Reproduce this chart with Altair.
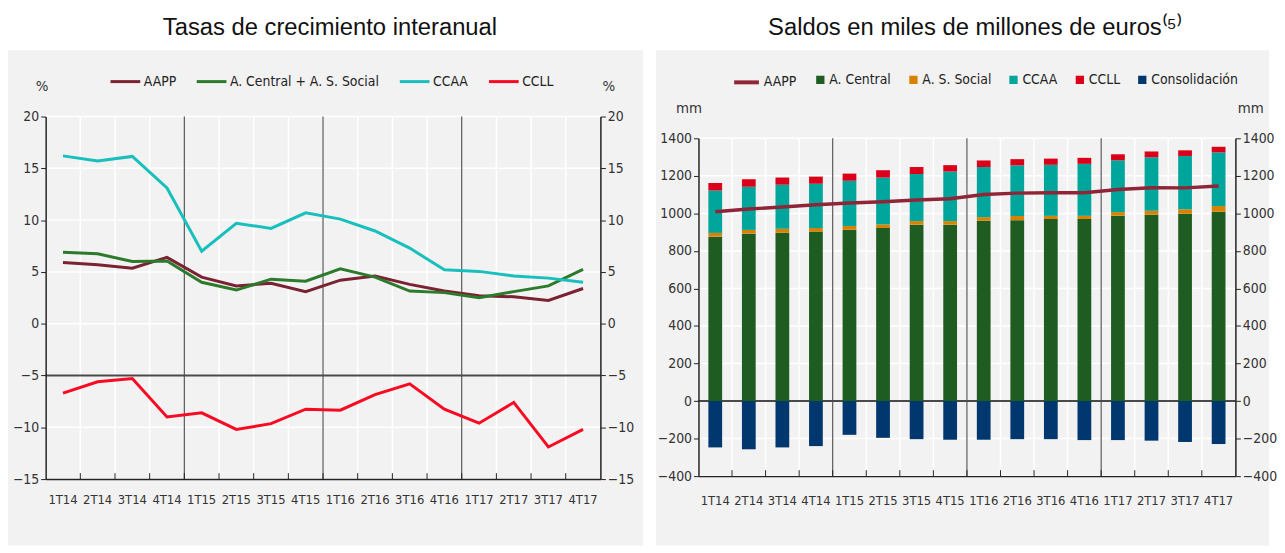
import altair as alt
import pandas as pd

# ---------------- data ----------------
quarters = ["1T14", "2T14", "3T14", "4T14", "1T15", "2T15", "3T15", "4T15",
            "1T16", "2T16", "3T16", "4T16", "1T17", "2T17", "3T17", "4T17"]

# Left panel: tasas de crecimiento interanual (%)
rate_aapp = [5.9, 5.7, 5.35, 6.4, 4.5, 3.65, 3.9, 3.1, 4.2, 4.6, 3.8, 3.15, 2.7, 2.6, 2.25, 3.4]
rate_central = [6.9, 6.75, 6.0, 6.05, 4.0, 3.25, 4.3, 4.1, 5.3, 4.5, 3.15, 3.0, 2.5, 3.1, 3.65, 5.25]
rate_ccaa = [16.2, 15.7, 16.15, 13.1, 7.0, 9.7, 9.2, 10.7, 10.1, 8.95, 7.3, 5.2, 5.05, 4.6, 4.4, 4.0]
rate_ccll = [-6.7, -5.6, -5.3, -9.0, -8.6, -10.2, -9.65, -8.25, -8.35, -6.85, -5.8, -8.25, -9.6, -7.6, -11.9, -10.2]
left_series = ["AAPP", "A. Central + A. S. Social", "CCAA", "CCLL"]
left_colors = ["#7a2231", "#2c7a2b", "#19bfbc", "#f70a22"]
left_ticks = [-15, -10, -5, 0, 5, 10, 15, 20]
left_cross = -5

# Right panel: saldos (mm euros)
stock_central = [876, 892, 897, 903, 913, 922, 940, 940, 961, 964, 970, 970, 988, 993, 998, 1009]
stock_social = [20, 20, 21, 19, 20, 19, 19, 19, 19, 22, 17, 17, 19, 21, 24, 30]
stock_ccaa = [226, 230, 235, 236, 241, 250, 251, 264, 267, 270, 272, 277, 276, 285, 284, 286]
stock_ccll = [40, 40, 38, 38, 38, 39, 37, 34, 35, 33, 33, 32, 32, 31, 30, 30]
stock_consol = [-247, -257, -247, -240, -180, -196, -203, -206, -206, -203, -203, -208, -208, -211, -218, -229]
stock_aapp = [1009, 1023, 1034, 1046, 1055, 1062, 1071, 1078, 1101, 1108, 1110, 1110, 1127, 1137, 1136, 1146]
bar_series = ["A. Central", "A. S. Social", "CCAA", "CCLL", "Consolidación"]
bar_colors = ["#1f5c21", "#d98200", "#00a59b", "#db0019", "#00376e"]
line_color_right = "#8f2537"
right_ticks = [-400, -200, 0, 200, 400, 600, 800, 1000, 1200, 1400]
right_cross = 0

# ---------------- styles ----------------
FONT = "Liberation Sans Narrow, DejaVu Sans Condensed, sans-serif"
TFONT = "Liberation Sans, Arial, sans-serif"
PANEL = "#f2f2f2"
AXC = "#222222"
LBL = "#333333"

# ---------------- tables ----------------
left_vals = [rate_aapp, rate_central, rate_ccaa, rate_ccll]
df_left = pd.DataFrame([
    {"q": q, "i": i, "s": s, "v": vals[i]}
    for s, vals in zip(left_series, left_vals)
    for i, q in enumerate(quarters)
])
bar_vals = [stock_central, stock_social, stock_ccaa, stock_ccll, stock_consol]
df_bars = pd.DataFrame([
    {"q": q, "c": c, "o": k, "v": vals[i]}
    for k, (c, vals) in enumerate(zip(bar_series, bar_vals))
    for i, q in enumerate(quarters)
])
df_rline = pd.DataFrame({"q": quarters, "i": list(range(len(quarters))), "s": "AAPP", "v": stock_aapp})
df_q = pd.DataFrame({"q": quarters})
df_inner = pd.DataFrame({"q": quarters[1:]})
df_years = pd.DataFrame({"q": quarters[4::4]})
df_one = pd.DataFrame({"a": [0]})


def yaxis(orient, yticks, ytitle, tx):
    return alt.Axis(orient=orient, values=yticks, format="d", grid=False, ticks=True, tickSize=5,
                    tickColor=AXC, domainColor=AXC, domainWidth=1.5, labelFont=FONT, labelFontSize=14,
                    labelColor=LBL, labelPadding=2, title=ytitle, titleAngle=0, titleX=tx,
                    titleY=-26, titleFont=FONT, titleFontSize=15, titleFontWeight="normal",
                    titleColor=LBL, titleAlign="center", titleBaseline="alphabetic", zindex=1)


def make_panel(W, H, ydom, yticks, cross, bg_box, ytitle, title_txt, tdx, lx_l, lx_r, lpad):
    xs = alt.Scale(type="band", domain=quarters, paddingInner=0, paddingOuter=0)
    ys = alt.Scale(domain=ydom, nice=False, zero=False)
    bx0, bx1, by0, by1 = bg_box
    bg = alt.Chart(df_one).mark_rect(color=PANEL).encode(
        x=alt.value(bx0), x2=alt.value(bx1), y=alt.value(by0), y2=alt.value(by1))
    vgrid = alt.Chart(df_q).mark_rule(color="white", strokeWidth=1.5).encode(
        x=alt.X("q:N", scale=xs, bandPosition=0, axis=None))
    hgrid = alt.Chart(pd.DataFrame({"v": yticks})).mark_rule(color="white", strokeWidth=1.5).encode(
        y=alt.Y("v:Q", scale=ys, axis=yaxis("right", yticks, ytitle, lx_r)))
    years = alt.Chart(df_years).mark_rule(color="#555555", strokeWidth=1.2).encode(
        x=alt.X("q:N", scale=xs, bandPosition=0, axis=None))
    crossl = alt.Chart(pd.DataFrame({"v": [cross]})).mark_rule(color="#4a4a4a", strokeWidth=2).encode(
        y=alt.Y("v:Q", scale=ys, axis=None))
    bticks = alt.Chart(df_inner).mark_rule(color=AXC, strokeWidth=1).encode(
        x=alt.X("q:N", scale=xs, bandPosition=0, axis=None),
        y=alt.value(H), y2=alt.value(H - 6))
    xaxis = alt.Axis(orient="bottom", grid=False, ticks=False, domain=True, domainColor=AXC,
                     domainWidth=1.5, labelAngle=0, labelPadding=lpad, labelFont=FONT,
                     labelFontSize=13, labelColor=LBL, title=None, zindex=1)
    yaxis_l = yaxis("left", yticks, ytitle, lx_l)
    title = alt.TitleParams(text=title_txt, font=TFONT, fontSize=24, fontWeight="normal",
                            color="#111111", anchor="middle", offset=10, dx=tdx)
    return xs, ys, bg, vgrid, hgrid, years, crossl, bticks, xaxis, yaxis_l, title


# ---------------- left panel ----------------
W1, H1 = 560, 366
xs1, ys1, bg1, vg1, hg1, yr1, cr1, bt1, xa1, ya1, t1 = make_panel(
    W1, H1, [-15, 20], left_ticks, left_cross, (-38, W1 + 43, -67, H1 + 67), "%",
    "Tasas de crecimiento interanual", 7, -4, 8, 15)

lines1 = alt.Chart(df_left).mark_line(strokeWidth=3).encode(
    x=alt.X("q:N", scale=xs1, bandPosition=0.5, axis=xa1),
    y=alt.Y("v:Q", scale=ys1, axis=ya1),
    color=alt.Color("s:N", scale=alt.Scale(domain=left_series, range=left_colors),
                    legend=alt.Legend(orient="none", legendX=64, legendY=-52, direction="horizontal",
                                      title=None, symbolType="stroke", symbolSize=900,
                                      symbolStrokeWidth=3, labelFont=FONT, labelFontSize=14,
                                      labelColor="#222222", columnPadding=14, labelOffset=2,
                                      labelLimit=400, padding=0)),
    order=alt.Order("i:Q"),
)

left = alt.layer(bg1, vg1, hg1, yr1, cr1, bt1, lines1).resolve_axis(
    x="independent", y="independent").properties(width=W1, height=H1, title=t1)

# ---------------- right panel ----------------
W2, H2 = 542, 341
xs2, ys2, bg2, vg2, hg2, yr2, cr2, bt2, xa2, ya2, t2 = make_panel(
    W2, H2, [-400, 1400], right_ticks, right_cross, (-43, 576, -89, H2 + 70), "mm",
    "Saldos en miles de millones de euros⁽⁵⁾", 8, -10, 15, 19)

bars2 = alt.Chart(df_bars).mark_bar(width={"band": 0.41}).encode(
    x=alt.X("q:N", scale=xs2, axis=xa2),
    y=alt.Y("v:Q", scale=ys2, stack="zero", axis=ya2),
    fill=alt.Fill("c:N", scale=alt.Scale(domain=bar_series, range=bar_colors),
                  legend=alt.Legend(orient="none", legendX=116, legendY=-66, direction="horizontal",
                                    title=None, symbolType="square", symbolSize=70,
                                    symbolStrokeWidth=0, labelFont=FONT, labelFontSize=14,
                                    labelColor="#222222", columnPadding=15, labelOffset=2,
                                    labelLimit=400, padding=0)),
    order=alt.Order("o:Q"),
)
line2 = alt.Chart(df_rline).mark_line(strokeWidth=3.5).encode(
    x=alt.X("q:N", scale=xs2, bandPosition=0.5, axis=None),
    y=alt.Y("v:Q", scale=ys2, axis=None),
    stroke=alt.Stroke("s:N", scale=alt.Scale(domain=["AAPP"], range=[line_color_right]),
                      legend=alt.Legend(orient="none", legendX=34, legendY=-71, direction="horizontal",
                                        title=None, symbolType="stroke", symbolSize=625,
                                        symbolStrokeWidth=4, labelFont=FONT, labelFontSize=14,
                                        labelColor="#222222", labelOffset=3, padding=0)),
    order=alt.Order("i:Q"),
)

right = alt.layer(bg2, vg2, hg2, yr2, cr2, bt2, bars2, line2).resolve_axis(
    x="independent", y="independent").properties(width=W2, height=H2, title=t2)

IND = dict(color="independent", fill="independent", stroke="independent")


def spacer():
    return alt.Chart(df_one).mark_point(opacity=0).encode(
        x=alt.value(0), y=alt.value(0)).properties(width=1, height=1)


def wrap(c):
    return alt.vconcat(spacer(), c, spacing=0).resolve_scale(**IND).resolve_legend(**IND)


chart = alt.hconcat(wrap(left), wrap(right), spacing=13).resolve_scale(**IND).resolve_legend(**IND).properties(
    padding={"top": 0, "left": 0, "right": 0, "bottom": 0}, background="white"
).configure_view(stroke=None)

chart.save("out.html", embed_options={"renderer": "svg", "actions": False})
